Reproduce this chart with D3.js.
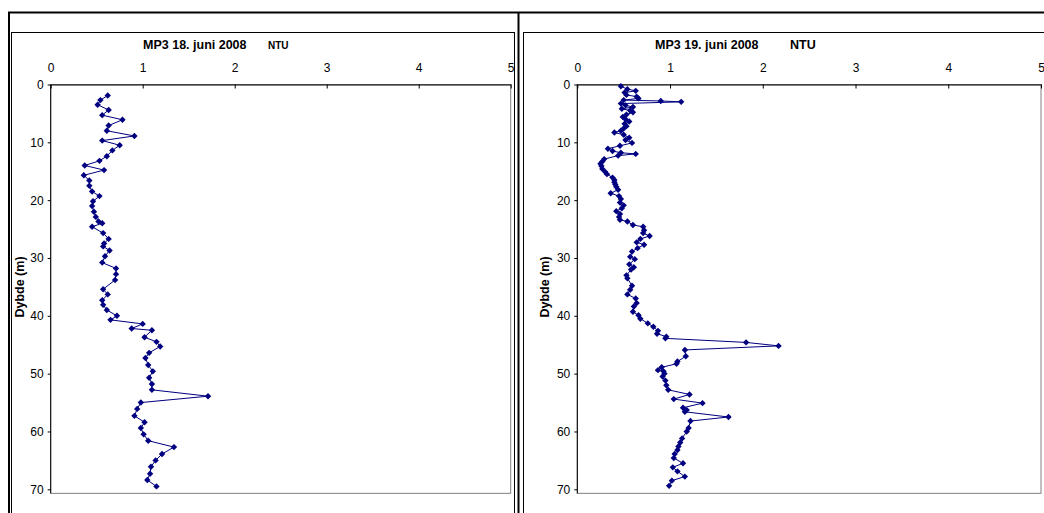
<!DOCTYPE html>
<html><head><meta charset="utf-8">
<script src="https://cdn.jsdelivr.net/npm/d3@7"></script>
<style>
html,body{margin:0;padding:0;background:#fff;}
svg{display:block;font-family:"Liberation Sans",Arial,sans-serif;}
</style></head>
<body>
<svg id="c" width="1044" height="513"></svg>
<script>
// ---- data ----
const xTicks = [0, 1, 2, 3, 4, 5];
const yTicks = [0, 10, 20, 30, 40, 50, 60, 70];

const titles18 = ["MP3 18. juni 2008", "NTU"];
const titles19 = ["MP3 19. juni 2008", "NTU"];
const yAxisTitle = "Dybde (m)";

const depth18 = [1.9,2.7,3.5,4.4,5.3,6.1,7.1,8.0,8.9,9.7,10.5,11.4,12.4,13.2,14.0,14.8,15.7,16.6,17.5,18.5,19.3,20.2,21.0,22.0,22.9,23.7,24.0,24.6,25.7,26.7,27.5,28.0,28.7,29.7,30.8,31.8,32.8,33.8,35.4,36.3,37.3,38.1,39.0,40.0,40.7,41.4,42.2,42.5,43.7,44.5,45.3,46.4,47.3,48.5,49.6,50.7,51.8,52.8,53.9,55.0,56.1,57.3,58.4,59.4,60.5,61.6,62.7,63.9,65.0,66.1,67.3,68.4,69.5];
const ntu18 = [0.62,0.54,0.51,0.63,0.56,0.78,0.63,0.61,0.91,0.56,0.75,0.67,0.61,0.53,0.37,0.58,0.36,0.42,0.42,0.45,0.53,0.46,0.45,0.47,0.49,0.52,0.56,0.45,0.57,0.63,0.58,0.57,0.64,0.59,0.56,0.71,0.71,0.70,0.57,0.62,0.56,0.57,0.61,0.72,0.65,1.00,0.88,1.10,1.02,1.15,1.19,1.07,1.03,1.06,1.11,1.07,1.10,1.10,1.71,0.98,0.94,0.91,1.02,0.98,1.01,1.06,1.34,1.21,1.14,1.09,1.08,1.05,1.15];

const depth19 = [0.3,0.8,1.1,1.4,1.8,2.1,2.4,2.7,2.85,3.0,3.3,3.6,3.9,4.2,4.5,4.8,5.2,5.6,6.0,6.4,6.8,7.2,7.6,8.0,8.3,8.7,9.2,9.6,10.1,10.6,11.1,11.5,11.8,12.0,12.3,12.9,13.3,13.7,14.1,14.6,15.1,15.5,16.1,16.5,16.9,17.3,17.7,18.2,18.8,19.3,19.8,20.4,20.9,21.4,21.9,22.4,22.9,23.4,23.7,24.3,24.6,25.2,25.7,26.2,26.7,27.3,27.7,28.3,28.9,29.8,30.2,31.1,31.6,32.0,33.0,33.5,34.8,35.5,36.3,37.0,37.8,38.4,39.3,39.9,40.5,41.3,41.9,42.6,43.1,43.6,43.9,44.6,45.2,45.9,47.0,47.9,48.3,48.9,49.4,49.6,50.0,50.5,51.2,52.0,52.8,53.6,54.4,55.1,55.9,56.3,56.6,57.5,58.2,59.4,60.0,61.2,61.9,62.6,63.2,63.9,64.6,65.5,66.2,66.9,67.8,68.5,69.4];
const ntu19 = [0.47,0.54,0.63,0.51,0.53,0.64,0.66,0.50,0.90,1.12,0.47,0.52,0.60,0.48,0.57,0.60,0.53,0.49,0.52,0.56,0.51,0.53,0.50,0.47,0.40,0.50,0.56,0.52,0.59,0.46,0.33,0.38,0.47,0.63,0.44,0.29,0.27,0.25,0.26,0.27,0.30,0.32,0.38,0.40,0.40,0.41,0.42,0.44,0.36,0.45,0.47,0.46,0.50,0.48,0.42,0.46,0.45,0.46,0.54,0.60,0.71,0.72,0.71,0.78,0.68,0.64,0.72,0.65,0.59,0.57,0.62,0.56,0.61,0.58,0.53,0.54,0.59,0.57,0.54,0.63,0.64,0.61,0.60,0.66,0.68,0.76,0.82,0.87,0.86,0.96,0.95,1.82,2.17,1.16,1.17,1.08,1.07,0.91,0.87,0.93,0.94,0.92,0.95,0.96,0.98,1.21,1.04,1.35,1.14,1.18,1.16,1.63,1.22,1.20,1.18,1.13,1.11,1.09,1.08,1.05,1.04,1.14,1.03,1.08,1.16,1.02,0.99];

// ---- drawing ----
const svg = d3.select("#c");

// outer frame
svg.append("line").attr("x1",8).attr("x2",1044).attr("y1",12.5).attr("y2",12.5).attr("stroke","#000").attr("stroke-width",2);
svg.append("line").attr("x1",9).attr("x2",9).attr("y1",12).attr("y2",513).attr("stroke","#000").attr("stroke-width",2);
svg.append("line").attr("x1",518.5).attr("x2",518.5).attr("y1",12).attr("y2",513).attr("stroke","#000").attr("stroke-width",2);

function panel(cfg) {
  const g = svg.append("g");
  // chart box
  g.append("rect").attr("x",cfg.boxX+0.5).attr("y",32.5).attr("width",cfg.boxW).attr("height",520)
    .attr("fill","#fff").attr("stroke","#000").attr("stroke-width",1);

  const x = d3.scaleLinear().domain([0,5]).range([cfg.x0, cfg.x1]);
  const y = d3.scaleLinear().domain([0,70]).range([84.5, 489.3]);
  const yBottom = y(70.7);

  // plot area border (right and bottom)
  g.append("rect").attr("x",x(0)).attr("y",y(0)).attr("width",x(5)-x(0)).attr("height",yBottom-y(0))
    .attr("fill","none").attr("stroke","#808080").attr("stroke-width",1);

  // x axis on top
  const xa = g.append("g").attr("transform",`translate(0,${y(0)})`)
    .call(d3.axisTop(x).tickValues(xTicks).tickFormat(d3.format("d")).tickSizeInner(-4).tickSizeOuter(0).tickPadding(13));
  xa.select(".domain").attr("stroke","#000");
  xa.selectAll("text").attr("font-size","12px").attr("fill","#000");

  // y axis
  const ya = g.append("g").attr("transform",`translate(${x(0)},0)`)
    .call(d3.axisLeft(y).tickValues(yTicks).tickFormat(d3.format("d")).tickSizeInner(3).tickSizeOuter(0).tickPadding(4));
  ya.select(".domain").attr("d",`M0,${y(0)}V${yBottom}`).attr("stroke","#000");
  ya.selectAll("text").attr("font-size","12px").attr("fill","#000");

  // titles
  g.append("text").attr("x",cfg.titleX).attr("y",48.5).attr("font-weight","bold").attr("font-size","12.5px").text(cfg.titles[0]);
  g.append("text").attr("x",cfg.ntuX).attr("y",48.5).attr("font-weight","bold").attr("font-size",cfg.ntuSize).text(cfg.titles[1]);
  g.append("text").attr("transform",`translate(${cfg.yTitleX},287) rotate(-90)`).attr("text-anchor","middle")
    .attr("font-weight","bold").attr("font-size","12.5px").text(yAxisTitle);

  const pts = cfg.depth.map((d,i)=>({d, v: cfg.ntu[i]}));
  const line = d3.line().x(p=>x(p.v)).y(p=>y(p.d));
  g.append("path").datum(pts).attr("d",line).attr("fill","none").attr("stroke","#000080").attr("stroke-width",1);
  const sym = d3.symbol().type(d3.symbolDiamond2).size(26);
  g.selectAll("path.m").data(pts).enter().append("path").attr("class","m")
    .attr("transform",p=>`translate(${x(p.v)},${y(p.d)})`).attr("d",sym).attr("fill","#000080");
}

panel({boxX:11, boxW:503, x0:50.7, x1:510.7, titles:titles18, titleX:143, ntuX:268, ntuSize:"10px", yTitleX:24, depth:depth18, ntu:ntu18});
panel({boxX:523, boxW:530, x0:577.3, x1:1041, titles:titles19, titleX:655, ntuX:790, ntuSize:"12.5px", yTitleX:549, depth:depth19, ntu:ntu19});
</script>
</body></html>
